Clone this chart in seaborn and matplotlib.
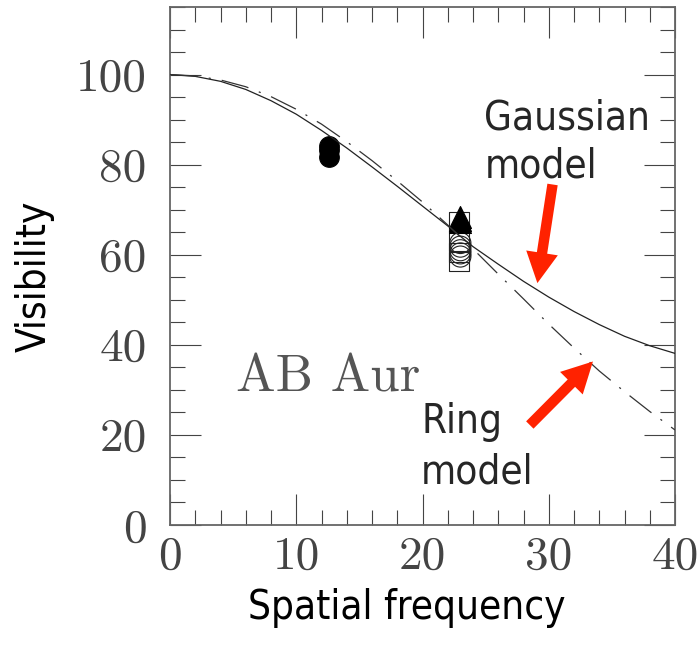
import matplotlib
matplotlib.use("Agg")
import matplotlib.pyplot as plt
import seaborn as sns
import pandas as pd
from matplotlib.patches import FancyArrowPatch
from matplotlib.ticker import FixedLocator, MultipleLocator, FixedFormatter

# ---------------- data ----------------
freq_grid = [0, 2, 4, 6, 8, 10, 12, 14, 16, 18, 20,
             22, 24, 26, 28, 30, 32, 34, 36, 38, 40]
gaussian_vis = [100.0, 99.6, 98.5, 96.7, 94.2, 91.2, 87.6, 83.7, 79.5, 75.2, 70.8,
                66.4, 61.8, 57.9, 54.1, 50.6, 47.4, 44.5, 41.9, 39.8, 38.1]
ring_vis = [100.0, 99.7, 98.8, 97.3, 95.1, 92.3, 89.0, 85.1, 80.9, 76.4, 71.7,
            66.6, 61.3, 55.7, 50.2, 44.6, 39.3, 34.2, 29.6, 25.2, 21.1]

fcirc_x = [12.6, 12.6, 12.6]
fcirc_y = [84.2, 83.2, 81.6]
ocirc_x = [23.0, 23.0, 23.0, 23.0, 23.0]
ocirc_y = [62.6, 61.8, 61.0, 60.3, 59.6]
osq_x = [22.9, 22.9, 22.9, 22.9]
osq_y = [67.2, 63.0, 60.5, 58.5]
ftri_x = [23.0, 23.0, 23.0]
ftri_y = [68.3, 67.8, 67.2]

x_ticks = [0, 10, 20, 30, 40]
x_ticklabels = ["0", "10", "20", "30", "40"]
y_ticks = [0, 20, 40, 60, 80, 100]
y_ticklabels = ["0", "20", "40", "60", "80", "100"]

# ---------------- style ----------------
sns.set_theme(style="ticks")
plt.rcParams["font.family"] = ["DejaVu Sans"]
plt.rcParams["lines.scale_dashes"] = False

label_font = dict(family="DejaVu Sans", stretch="condensed")
serif_font = "cmr10"
red = "#ff2200"
frame = "#666666"

fig = plt.figure(figsize=(7, 6.6), dpi=100)
ax = fig.add_axes([170 / 700, 1 - 525 / 660, 505 / 700, 518 / 660])

models = pd.DataFrame({"freq": freq_grid, "gauss": gaussian_vis, "ring": ring_vis})

sns.lineplot(data=models, x="freq", y="gauss", color="#222222", lw=0.9, ax=ax, zorder=3)
sns.lineplot(data=models, x="freq", y="ring", color="#333333", lw=0.9, ax=ax, zorder=3,
             linestyle=(0, (20, 8, 1.5, 8)))

sns.scatterplot(x=fcirc_x, y=fcirc_y, marker="o", s=200, color="black",
                edgecolor="black", linewidth=0.8, ax=ax, zorder=2)
sns.scatterplot(x=osq_x, y=osq_y, marker="s", s=200, facecolor="none",
                edgecolor="#222222", linewidth=0.8, ax=ax, zorder=2)
sns.scatterplot(x=ocirc_x, y=ocirc_y, marker="o", s=230, facecolor="none",
                edgecolor="#222222", linewidth=0.8, ax=ax, zorder=2)
sns.scatterplot(x=ftri_x, y=ftri_y, marker="^", s=250, color="black",
                edgecolor="black", linewidth=0.8, ax=ax, zorder=2)

ax.set_xlim(0, 40)
ax.set_ylim(0, 115)

ax.xaxis.set_major_locator(FixedLocator(x_ticks))
ax.xaxis.set_major_formatter(FixedFormatter(x_ticklabels))
ax.xaxis.set_minor_locator(MultipleLocator(2))
ax.yaxis.set_major_locator(FixedLocator(y_ticks))
ax.yaxis.set_major_formatter(FixedFormatter(y_ticklabels))
ax.yaxis.set_minor_locator(MultipleLocator(5))

ax.tick_params(which="both", direction="in", top=True, right=True,
               color="#444444", width=0.8)
ax.tick_params(which="major", length=22)
ax.tick_params(which="minor", length=11)
ax.tick_params(axis="x", which="major", pad=8)
ax.tick_params(axis="y", which="major", pad=17)
for lab in ax.get_xticklabels() + ax.get_yticklabels():
    lab.set_family(serif_font)
    lab.set_fontsize(34)
    lab.set_color("#444444")

for sp in ax.spines.values():
    sp.set_color(frame)
    sp.set_linewidth(1.3)

ax.set_xlabel("Spatial frequency", fontsize=29, color="black", **label_font)
ax.set_ylabel("Visibility", fontsize=29, color="black", **label_font)
ax.xaxis.set_label_coords((407 - 170) / 505, (525 - 588) / 518)
ax.yaxis.set_label_coords((55 - 170) / 505, (525 - 276) / 518)

ax.text(5.2, 29.6, "AB Aur", family=serif_font, fontsize=38, color="#555555",
        ha="left", va="baseline")

ax.text(24.9, 87.8, "Gaussian", fontsize=29, ha="left", va="baseline", **label_font)
ax.text(24.9, 77.1, "model", fontsize=29, ha="left", va="baseline", **label_font)
ax.text(19.9, 20.4, "Ring", fontsize=29, ha="left", va="baseline", **label_font)
ax.text(19.9, 9.3, "model", fontsize=29, ha="left", va="baseline", **label_font)

arrow_style = "simple,head_length=22,head_width=23,tail_width=7.5"
for tail, tip in [((30.3, 75.6), (29.1, 53.7)), ((28.5, 22.2), (33.5, 36.3))]:
    ax.add_patch(FancyArrowPatch(tail, tip, arrowstyle=arrow_style, mutation_scale=1,
                                 color=red, lw=0, shrinkA=0, shrinkB=0, zorder=4))

fig.savefig("out.png", dpi=100)
